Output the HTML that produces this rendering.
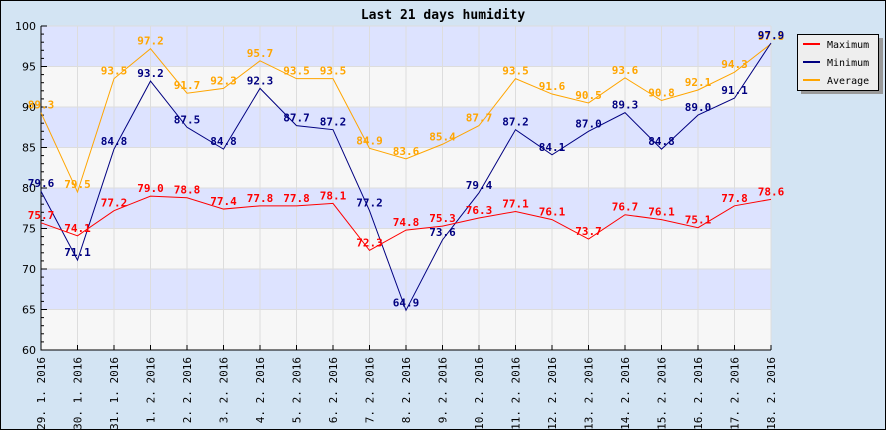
<!DOCTYPE html>
<html><head><meta charset="utf-8"><style>
body{margin:0;background:#d3e4f3;}
svg{display:block;font-family:"DejaVu Sans Mono","Liberation Mono",monospace;}
</style></head><body>
<svg id="chart" width="886" height="430">
<rect x="0.5" y="0.5" width="885" height="429" fill="#d3e4f3" stroke="#000"/>
<text x="443" y="19" text-anchor="middle" font-size="13" font-weight="bold">Last 21 days humidity</text>
<g id="plot"></g>
<g>
<rect x="801" y="38" width="82" height="56" fill="#999"/>
<rect x="797.5" y="34.5" width="81" height="56" fill="#eee" stroke="#000"/>
<line x1="803" y1="44" x2="820" y2="44" stroke="red" stroke-width="2"/><text x="827" y="48" font-size="10">Maximum</text>
<line x1="803" y1="62" x2="820" y2="62" stroke="#000080" stroke-width="2"/><text x="827" y="66" font-size="10">Minimum</text>
<line x1="803" y1="80" x2="820" y2="80" stroke="orange" stroke-width="2"/><text x="827" y="84" font-size="10">Average</text>
</g>
</svg>
<script>
const categories=["29. 1. 2016","30. 1. 2016","31. 1. 2016","1. 2. 2016","2. 2. 2016","3. 2. 2016","4. 2. 2016","5. 2. 2016","6. 2. 2016","7. 2. 2016","8. 2. 2016","9. 2. 2016","10. 2. 2016","11. 2. 2016","12. 2. 2016","13. 2. 2016","14. 2. 2016","15. 2. 2016","16. 2. 2016","17. 2. 2016","18. 2. 2016"];
const maxValues=[75.7,74.1,77.2,79.0,78.8,77.4,77.8,77.8,78.1,72.3,74.8,75.3,76.3,77.1,76.1,73.7,76.7,76.1,75.1,77.8,78.6];
const minValues=[79.6,71.1,84.8,93.2,87.5,84.8,92.3,87.7,87.2,77.2,64.9,73.6,79.4,87.2,84.1,87.0,89.3,84.8,89.0,91.1,97.9];
const avgValues=[89.3,79.5,93.5,97.2,91.7,92.3,95.7,93.5,93.5,84.9,83.6,85.4,87.7,93.5,91.6,90.5,93.6,90.8,92.1,94.3,97.8];
const yTicks=[60,65,70,75,80,85,90,95,100];
const NS="http://www.w3.org/2000/svg";
const L=41,R=771,T=26,B=350,yMin=60,yMax=100;
const xs=i=>L+i*(R-L)/(categories.length-1);
const ys=v=>B-(v-yMin)/(yMax-yMin)*(B-T);
const g=document.getElementById('plot');
function mk(tag,at){const e=document.createElementNS(NS,tag);for(const k in at)e.setAttribute(k,at[k]);g.appendChild(e);return e;}
for(let i=0;i<yTicks.length-1;i++){
 const r=mk('rect',{x:L,y:ys(yTicks[i+1]),width:R-L,height:ys(yTicks[i])-ys(yTicks[i+1]),fill:i%2?'#dde3ff':'#f7f7f7'});
 
 
}
categories.forEach((c,i)=>{
 const l=mk('line',{x1:xs(i),x2:xs(i),y1:T,y2:B,stroke:'#ddd'});
 
 
 const tk=mk('line',{x1:xs(i),x2:xs(i),y1:B-5,y2:B,stroke:'#000'});
 
 
 const t=mk('text',{x:0,y:0,'font-size':11,'text-anchor':'end',transform:`translate(${xs(i)+4},${B+7}) rotate(-90)`});
 t.textContent=c;
 
 
});
yTicks.forEach(v=>{
 const l=mk('line',{x1:L,x2:R,y1:ys(v),y2:ys(v),stroke:'#ddd'});
 
 
 const t=mk('text',{x:L-5,y:ys(v)+4,'font-size':11,'text-anchor':'end','font-family':'DejaVu Sans,sans-serif'});
 t.textContent=v;
 
 
});
for(let v=yMin;v<=yMax;v++){
 const tk=mk('line',{x1:L,x2:L+(v%5?3:6),y1:ys(v),y2:ys(v),stroke:'#000'});
 
 
}
const ax=mk('path',{d:`M${L},${T} V${B} H${R}`,stroke:'#000',fill:'none'});


function series(vals,color,name){
 const p=mk('polyline',{points:vals.map((v,i)=>xs(i)+','+ys(v)).join(' '),fill:'none',stroke:color,'stroke-width':1});
 
 
 vals.forEach((v,i)=>{
  const t=mk('text',{x:xs(i),y:ys(v)-4,'font-size':11,'font-weight':'bold','text-anchor':'middle',fill:color});
  t.textContent=v.toFixed(1);
  
  
 });
}
series(avgValues,'orange','average');
series(minValues,'#000080','minimum');
series(maxValues,'red','maximum');
</script>
</body></html>
